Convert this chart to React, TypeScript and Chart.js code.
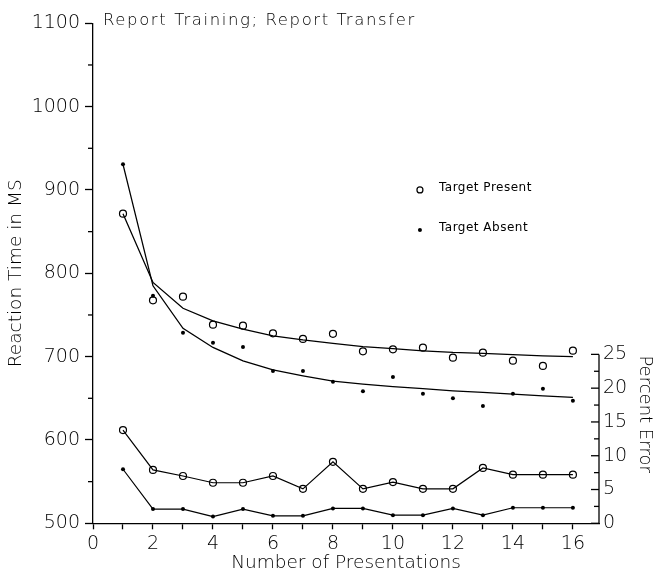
import React, { useEffect, useRef } from 'react';
import { Chart, registerables } from 'chart.js';

Chart.register(...registerables);

// ---- data ----
const presentations = [1, 2, 3, 4, 5, 6, 7, 8, 9, 10, 11, 12, 13, 14, 15, 16];
const presentRT = [871.5, 767.6, 772, 738.3, 737.1, 728, 721.2, 727.4, 706.4, 708.8, 710.7, 698.7, 704.7, 695.1, 688.8, 707.1];
const absentRT = [930.8, 773, 728.7, 716.7, 711.6, 682.8, 682.8, 669.9, 658.4, 675.6, 655.5, 650, 640.8, 655.5, 661.5, 647.1];
const presentFit = [871.5, 789, 758, 743, 733, 725, 720, 716, 712, 709.5, 707, 705, 704, 702.5, 701, 700];
const absentFit = [930.8, 785, 734, 711, 695, 684, 677, 670.5, 667, 664, 661.5, 659, 657, 655, 653, 651];
const presentErr = [13.8, 7.9, 7.0, 6.0, 6.0, 7.0, 5.1, 9.1, 5.1, 6.1, 5.1, 5.1, 8.2, 7.2, 7.2, 7.2];
const absentErr = [8.0, 2.1, 2.1, 1.0, 2.1, 1.1, 1.1, 2.2, 2.2, 1.2, 1.2, 2.2, 1.2, 2.3, 2.3, 2.3];

const xTicks = [0, 1, 2, 3, 4, 5, 6, 7, 8, 9, 10, 11, 12, 13, 14, 15, 16];
const rtTicks = [500, 550, 600, 650, 700, 750, 800, 850, 900, 950, 1000, 1050, 1100];
const errTicks = [0, 2.5, 5, 7.5, 10, 12.5, 15, 17.5, 20, 22.5, 25];

const seriesNames = ['Target Present', 'Target Absent'];
const chartTitle = 'Report Training; Report Transfer';
const xTitle = 'Number of Presentations';
const yTitle = 'Reaction Time in MS';
const y2Title = 'Percent Error';

const FAMILY = "'DejaVu Sans', sans-serif";
const WEIGHT = '200';
const INK = '#000';

const pts = (arr: number[]) => presentations.map((n, i) => ({ x: n, y: arr[i] }));

const overlayPlugin = {
  id: 'overlay',
  afterDraw(chart: any) {
    const { ctx, chartArea, scales } = chart;
    const y = scales.y;
    const y2 = scales.y2;
    const x = scales.x;
    ctx.save();
    ctx.strokeStyle = INK;
    ctx.lineWidth = 1.3;
    // left minor ticks
    rtTicks.forEach((v) => {
      if (v % 100 !== 0) {
        const py = y.getPixelForValue(v);
        ctx.beginPath();
        ctx.moveTo(chartArea.left - 5, py);
        ctx.lineTo(chartArea.left, py);
        ctx.stroke();
      }
    });
    // right axis (partial)
    const rx = chartArea.right;
    const topV = errTicks[errTicks.length - 1];
    ctx.beginPath();
    ctx.moveTo(rx, y2.getPixelForValue(topV));
    ctx.lineTo(rx, chartArea.bottom);
    ctx.stroke();
    errTicks.forEach((v) => {
      const len = v % 5 === 0 ? 8 : 5;
      const py = y2.getPixelForValue(v);
      ctx.beginPath();
      ctx.moveTo(rx - len, py);
      ctx.lineTo(rx, py);
      ctx.stroke();
    });
    // right axis title
    ctx.fillStyle = INK;
    ctx.save();
    ctx.font = `${WEIGHT} 18px ${FAMILY}`;
    ctx.translate(rx + 46, y2.getPixelForValue(topV) + 1);
    ctx.rotate(Math.PI / 2);
    ctx.textAlign = 'left';
    ctx.textBaseline = 'middle';
    ctx.fillText(y2Title, 0, 0);
    ctx.restore();
    // chart title
    ctx.save();
    ctx.font = `${WEIGHT} 16.5px ${FAMILY}`;
    (ctx as any).letterSpacing = '1.6px';
    ctx.textAlign = 'left';
    ctx.textBaseline = 'alphabetic';
    ctx.fillText(chartTitle, chartArea.left + 10, chartArea.top + 1.5);
    ctx.restore();
    // legend
    const lx = x.getPixelForValue(10.9);
    const ly1 = y.getPixelForValue(900);
    const ly2 = y.getPixelForValue(852);
    ctx.save();
    ctx.lineWidth = 1.2;
    ctx.beginPath();
    ctx.arc(lx, ly1, 3, 0, Math.PI * 2);
    ctx.stroke();
    ctx.beginPath();
    ctx.arc(lx, ly2, 2, 0, Math.PI * 2);
    ctx.fill();
    ctx.font = `normal 12px ${FAMILY}`;
    (ctx as any).letterSpacing = '0.5px';
    ctx.textAlign = 'left';
    ctx.textBaseline = 'alphabetic';
    ctx.fillText(seriesNames[0], lx + 19, ly1 + 1);
    ctx.fillText(seriesNames[1], lx + 19, ly2 + 1);
    ctx.restore();
    ctx.restore();
  },
};

export default function App() {
  const ref = useRef<HTMLCanvasElement>(null);
  useEffect(() => {
    Chart.defaults.color = INK;
    Chart.defaults.font = { family: FAMILY, size: 19, weight: WEIGHT as any, lineHeight: 1.2, style: 'normal' } as any;
    const openPt = { pointStyle: 'circle', pointRadius: 3.5, pointBackgroundColor: 'rgba(0,0,0,0)', pointBorderColor: INK, pointBorderWidth: 1.2 };
    const dotPt = { pointStyle: 'circle', pointRadius: 2, pointBackgroundColor: INK, pointBorderColor: INK, pointBorderWidth: 0 };
    const chart = new Chart(ref.current as HTMLCanvasElement, {
      type: 'line',
      data: {
        datasets: [
          { label: seriesNames[0], data: pts(presentRT), showLine: false, yAxisID: 'y', ...openPt } as any,
          { label: seriesNames[1], data: pts(absentRT), showLine: false, yAxisID: 'y', ...dotPt } as any,
          { label: 'fitP', data: pts(presentFit), yAxisID: 'y', borderColor: INK, borderWidth: 1.3, pointRadius: 0, tension: 0 },
          { label: 'fitA', data: pts(absentFit), yAxisID: 'y', borderColor: INK, borderWidth: 1.3, pointRadius: 0, tension: 0 },
          { label: 'errP', data: pts(presentErr), yAxisID: 'y2', borderColor: INK, borderWidth: 1.2, tension: 0, ...openPt } as any,
          { label: 'errA', data: pts(absentErr), yAxisID: 'y2', borderColor: INK, borderWidth: 1.2, tension: 0, ...dotPt } as any,
        ],
      },
      options: {
        animation: false,
        responsive: false,
        devicePixelRatio: 1,
        layout: { padding: { top: 23.3, left: 0, right: 0, bottom: 0 } },
        plugins: { legend: { display: false }, tooltip: { enabled: false } },
        scales: {
          x: {
            type: 'linear',
            min: 0,
            max: 16.87,
            bounds: 'data',
            offset: false,
            afterBuildTicks: (s: any) => { s.ticks = xTicks.map((v) => ({ value: v })); },
            afterFit: (s: any) => { s.height = 574 - 523.3; s.paddingLeft = 0; s.paddingRight = 0; },
            ticks: { autoSkip: false, maxRotation: 0, padding: 3, callback: (v: any) => (v % 2 === 0 ? String(v) : '') },
            grid: { display: true, drawOnChartArea: false, drawTicks: true, tickLength: 6, tickColor: INK, tickWidth: 1.3 },
            border: { display: true, color: INK, width: 1.3 },
            title: { display: true, text: xTitle, font: { size: 18.5 }, padding: { top: 0, bottom: 0 } },
          },
          y: {
            type: 'linear',
            position: 'left',
            min: 500,
            max: 1100,
            bounds: 'data',
            afterBuildTicks: (s: any) => { s.ticks = rtTicks.filter((v) => v % 100 === 0).map((v) => ({ value: v })); },
            afterFit: (s: any) => { s.width = 93; s.paddingTop = 0; s.paddingBottom = 0; },
            ticks: { autoSkip: false, padding: 5, callback: (v: any) => String(v) },
            grid: { display: true, drawOnChartArea: false, drawTicks: true, tickLength: 8, tickColor: INK, tickWidth: 1.3 },
            border: { display: true, color: INK, width: 1.3 },
            title: { display: true, text: yTitle, font: { size: 18.5 }, padding: { top: 5.4, bottom: 0 } },
          },
          y2: {
            type: 'linear',
            position: 'right',
            min: 0,
            max: 74,
            bounds: 'data',
            afterBuildTicks: (s: any) => { s.ticks = errTicks.filter((v) => v % 5 === 0).map((v) => ({ value: v })); },
            afterFit: (s: any) => { s.width = 653 - 599; s.paddingTop = 0; s.paddingBottom = 0; },
            ticks: { autoSkip: false, padding: 4, callback: (v: any) => String(v) },
            grid: { display: false, drawOnChartArea: false, drawTicks: false },
            border: { display: false },
          },
        },
      },
      plugins: [overlayPlugin],
    } as any);
    return () => chart.destroy();
  }, []);
  return (
    <canvas
      ref={ref}
      width={653}
      height={574}
      style={{ position: 'absolute', left: 0, top: 0, display: 'block', width: 653, height: 574 }}
    />
  );
}
